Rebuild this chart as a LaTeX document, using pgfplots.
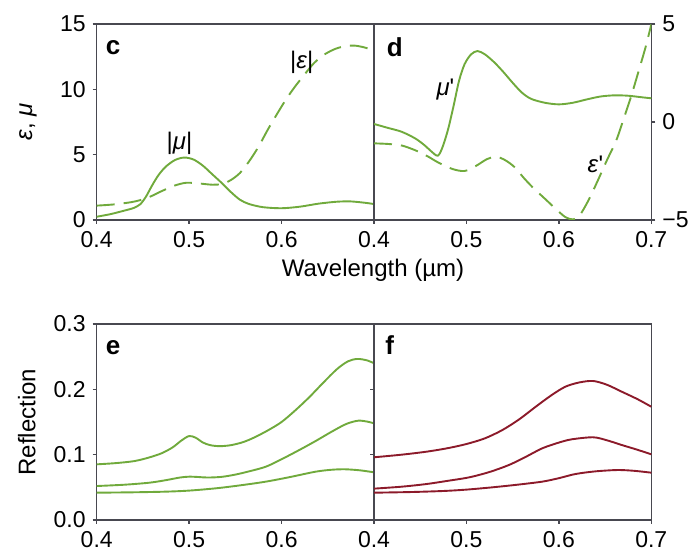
\documentclass[border=0pt]{standalone}
\usepackage{fontspec}
\setmainfont{Liberation Sans}
\usepackage{pgfplots}
\pgfplotsset{compat=1.18}

\definecolor{axcol}{RGB}{72,72,80}
\definecolor{lgreen}{RGB}{112,170,60}
\definecolor{dred}{RGB}{140,26,42}

\newcommand{\tfont}{\fontsize{11.5}{13}\selectfont}

\pgfplotsset{
  panel/.style={
    scale only axis, width=138.65pt, height=98pt,
    xmin=0.4, xmax=0.7,
    axis line style={draw=axcol, line width=0.75pt},
    tick style={draw=axcol, line width=0.75pt},
    tick align=outside, major tick length=2pt,
    xtick pos=bottom, ytick pos=left,
    tick label style={font=\tfont},
    /pgf/number format/assume math mode=true,
    xticklabel style={/pgf/number format/.cd, fixed, precision=1},
  },
  gline/.style={lgreen, line width=0.95pt, smooth},
  gdash/.style={lgreen, line width=0.95pt, smooth, dash pattern=on 9pt off 4.5pt},
  rline/.style={dred, line width=0.95pt, smooth},
}
\tikzset{
  letter/.style={font=\fontsize{13}{14}\bfseries\selectfont, anchor=center},
  ann/.style={font=\fontsize{12}{13}\selectfont, anchor=center},
}

\begin{document}
\begin{tikzpicture}
\useasboundingbox (0,0) rectangle (346pt,276pt);

% c
\begin{axis}[panel, at={(48.35pt,166pt)}, anchor=south west,
  ymin=0, ymax=15, ytick={0,5,10,15}, xtick={0.4,0.5,0.6},
  ylabel={\textit{ε}, \textit{μ}}, ylabel style={font=\fontsize{12}{13}\selectfont, at={(axis description cs:-0.248,0.5)}, anchor=center}]
\addplot[gline] coordinates {
(0.400,0.25) (0.415,0.45) (0.430,0.72) (0.440,0.92) (0.447,1.20) (0.453,1.75)
(0.460,2.65) (0.467,3.45) (0.475,4.10) (0.485,4.60) (0.495,4.78) (0.505,4.62)
(0.515,4.15) (0.525,3.50) (0.535,2.85) (0.545,2.15) (0.555,1.55) (0.565,1.22)
(0.580,0.98) (0.600,0.90) (0.620,1.02) (0.640,1.25) (0.660,1.40) (0.675,1.42)
(0.690,1.32) (0.700,1.22)};
\addplot[gdash] coordinates {
(0.400,1.10) (0.420,1.20) (0.440,1.40) (0.455,1.70) (0.470,2.20) (0.485,2.65)
(0.497,2.85) (0.510,2.80) (0.525,2.70) (0.535,2.75) (0.545,3.05) (0.555,3.60)
(0.565,4.50) (0.575,5.60) (0.585,6.90) (0.595,8.10) (0.605,9.25) (0.615,10.25)
(0.625,11.15) (0.635,12.00) (0.645,12.60) (0.655,13.00) (0.665,13.25) (0.678,13.35)
(0.690,13.20) (0.700,12.95)};
\node[letter] at (rel axis cs:0.059,0.878) {c};
\node[ann] at (axis cs:0.4896,5.9) {|\textit{μ}|};
\node[ann] at (axis cs:0.6218,12.1) {|\textit{ε}|};
\end{axis}

% d
\begin{axis}[panel, at={(187pt,166pt)}, anchor=south west,
  ymin=-5, ymax=5, ytick={-5,0,5}, yticklabels={−5,0,5},
  ytick pos=right, yticklabel pos=right,
  xtick={0.4,0.5,0.6,0.7}]
\addplot[gline] coordinates {
(0.400,-0.10) (0.415,-0.30) (0.430,-0.50) (0.445,-0.85) (0.455,-1.20) (0.462,-1.50)
(0.469,-1.72) (0.474,-1.30) (0.480,-0.40) (0.486,0.80) (0.492,2.10) (0.498,2.95)
(0.505,3.45) (0.512,3.62) (0.520,3.45) (0.530,3.05) (0.540,2.55) (0.550,2.00)
(0.560,1.50) (0.570,1.18) (0.585,0.98) (0.600,0.90) (0.615,0.98) (0.630,1.15)
(0.645,1.30) (0.660,1.36) (0.675,1.34) (0.690,1.26) (0.700,1.21)};
\addplot[gdash] coordinates {
(0.400,-1.09) (0.415,-1.12) (0.430,-1.20) (0.445,-1.45) (0.458,-1.75) (0.470,-2.08)
(0.485,-2.40) (0.498,-2.50) (0.510,-2.25) (0.522,-1.90) (0.532,-1.77) (0.542,-1.95)
(0.552,-2.30) (0.562,-2.85) (0.572,-3.35) (0.585,-3.92) (0.597,-4.45) (0.607,-4.85)
(0.615,-4.97) (0.622,-4.80) (0.632,-4.00) (0.642,-3.00) (0.652,-1.95) (0.662,-0.95)
(0.670,0.15) (0.678,1.28) (0.686,2.55) (0.694,3.85) (0.700,4.98)};
\node[letter] at (rel axis cs:0.075,0.883) {d};
\node[ann] at (axis cs:0.4773,1.67) {\textit{μ}\textquotesingle};
\node[ann] at (axis cs:0.6395,-2.16) {\textit{ε}\textquotesingle};
\end{axis}

\node[font=\fontsize{12}{13}\selectfont] at (186.5pt,141pt) {Wavelength (µm)};

% e
\begin{axis}[panel, at={(48.35pt,16pt)}, anchor=south west,
  ymin=0, ymax=0.3, ytick={0,0.1,0.2,0.3}, xtick={0.4,0.5,0.6},
  yticklabel style={/pgf/number format/.cd, fixed, fixed zerofill, precision=1},
  ylabel={Reflection}, ylabel style={font=\fontsize{12}{13}\selectfont, at={(axis description cs:-0.252,0.5)}, anchor=center}]
\addplot[gline] coordinates {
(0.400,0.0852) (0.420,0.0870) (0.440,0.0900) (0.455,0.0950) (0.470,0.1020)
(0.482,0.1110) (0.492,0.1220) (0.500,0.1285) (0.507,0.1260) (0.515,0.1185)
(0.523,0.1145) (0.533,0.1130) (0.545,0.1145) (0.558,0.1190) (0.570,0.1260)
(0.585,0.1370) (0.600,0.1500) (0.615,0.1680) (0.630,0.1880) (0.645,0.2100)
(0.660,0.2310) (0.672,0.2430) (0.682,0.2465) (0.692,0.2445) (0.700,0.2400)};
\addplot[gline] coordinates {
(0.400,0.0520) (0.430,0.0540) (0.457,0.0571) (0.475,0.0610) (0.490,0.0650)
(0.500,0.0663) (0.510,0.0658) (0.520,0.0650) (0.535,0.0660) (0.550,0.0695)
(0.565,0.0745) (0.583,0.0816) (0.600,0.0930) (0.619,0.1070) (0.637,0.1210)
(0.654,0.1350) (0.670,0.1470) (0.683,0.1520) (0.693,0.1505) (0.700,0.1480)};
\addplot[gline] coordinates {
(0.400,0.0418) (0.440,0.0424) (0.475,0.0434) (0.500,0.0450) (0.529,0.0485)
(0.555,0.0530) (0.583,0.0587) (0.610,0.0660) (0.637,0.0740) (0.655,0.0770)
(0.669,0.0776) (0.685,0.0760) (0.700,0.0730)};
\node[letter] at (rel axis cs:0.059,0.879) {e};
\end{axis}

% f
\begin{axis}[panel, at={(187pt,16pt)}, anchor=south west,
  ymin=0, ymax=0.3, ytick={0.1,0.2}, yticklabels={,,},
  xtick={0.4,0.5,0.6,0.7}]
\addplot[rline] coordinates {
(0.400,0.0960) (0.430,0.1000) (0.457,0.1046) (0.480,0.1100) (0.500,0.1163)
(0.520,0.1250) (0.539,0.1378) (0.557,0.1540) (0.575,0.1734) (0.592,0.1910)
(0.607,0.2040) (0.622,0.2105) (0.637,0.2128) (0.652,0.2070) (0.668,0.1964)
(0.685,0.1850) (0.700,0.1734)};
\addplot[rline] coordinates {
(0.400,0.0480) (0.430,0.0510) (0.457,0.0551) (0.480,0.0600) (0.503,0.0653)
(0.525,0.0735) (0.546,0.0842) (0.564,0.0965) (0.582,0.1097) (0.600,0.1185)
(0.614,0.1235) (0.637,0.1266) (0.652,0.1220) (0.668,0.1148) (0.685,0.1075)
(0.700,0.1005)};
\addplot[rline] coordinates {
(0.400,0.0418) (0.440,0.0428) (0.475,0.0444) (0.500,0.0465) (0.528,0.0500)
(0.555,0.0540) (0.582,0.0587) (0.600,0.0640) (0.618,0.0704) (0.640,0.0745)
(0.664,0.0765) (0.682,0.0752) (0.700,0.0724)};
\node[letter] at (rel axis cs:0.057,0.894) {f};
\end{axis}
\end{tikzpicture}
\end{document}
